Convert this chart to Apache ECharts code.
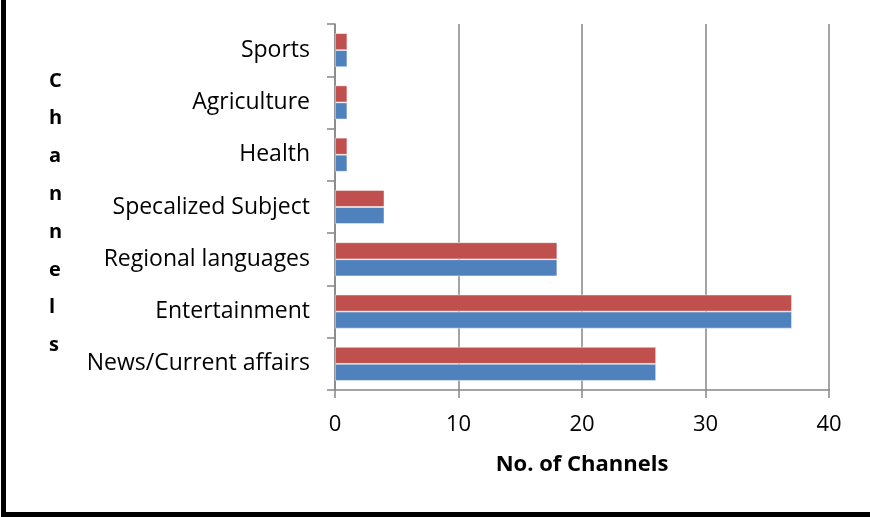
<!DOCTYPE html>
<html>
<head>
<meta charset="utf-8">
<script src="https://cdn.jsdelivr.net/npm/echarts@6/dist/echarts.min.js"></script>
<style>
html,body{margin:0;padding:0;background:#fff;}
#chart{width:870px;height:517px;}
</style>
</head>
<body>
<div id="chart"></div>
<script>
var categories = ['News/Current affairs', 'Entertainment', 'Regional languages', 'Specalized Subject', 'Health', 'Agriculture', 'Sports'];
var seriesBlue = [26, 37, 18, 4, 1, 1, 1];
var seriesRed = [26, 37, 18, 4, 1, 1, 1];
var xTicks = { min: 0, max: 40, interval: 10 };
var xTitle = 'No. of Channels';
var yTitle = 'Channels';

var FONT = 'Open Sans';
var chart = echarts.init(document.getElementById('chart'), null, { renderer: 'canvas' });
chart.setOption({
  animation: false,
  backgroundColor: '#ffffff',
  grid: { left: 335, right: 41, top: 24, bottom: 127, containLabel: false },
  xAxis: {
    type: 'value',
    min: xTicks.min, max: xTicks.max, interval: xTicks.interval,
    name: xTitle,
    nameLocation: 'middle',
    nameGap: 64,
    nameTextStyle: { fontFamily: FONT, fontSize: 22, fontWeight: 'bold', color: '#000' },
    axisLine: { show: true, lineStyle: { color: '#868686', width: 1.5 } },
    axisTick: { show: true, length: 8, lineStyle: { color: '#868686', width: 1.5 } },
    axisLabel: { fontFamily: FONT, fontSize: 22, color: '#000', margin: 24 },
    splitLine: { show: true, lineStyle: { color: '#868686', width: 1.5 } }
  },
  yAxis: {
    type: 'category',
    data: categories,
    axisLine: { show: true, lineStyle: { color: '#868686', width: 1.5 } },
    axisTick: { show: true, length: 8, alignWithLabel: false, lineStyle: { color: '#868686', width: 1.5 } },
    axisLabel: { fontFamily: FONT, fontSize: 23, color: '#000', margin: 25, padding: [4, 0, 0, 0] },
    splitLine: { show: false }
  },
  graphic: [
    { type: 'rect', shape: { x: 1, y: 0, width: 5, height: 517 }, style: { fill: '#000' } },
    { type: 'rect', shape: { x: 1, y: 512, width: 869, height: 5 }, style: { fill: '#000' } },
    {
      type: 'text', left: 49, top: 62,
      style: {
        text: yTitle.split('').join('\n'),
        fontFamily: FONT, fontSize: 20, fontWeight: 'bold', fill: '#000',
        lineHeight: 37.8, align: 'center'
      }
    }
  ],
  series: [
    {
      name: 'Series 2', type: 'bar', data: seriesRed,
      barGap: '0%', barCategoryGap: '35%',
      itemStyle: { color: '#C0504D', borderColor: 'rgba(255,255,255,0.6)', borderWidth: 0.8 }
    },
    {
      name: 'Series 1', type: 'bar', data: seriesBlue,
      barGap: '0%', barCategoryGap: '35%',
      itemStyle: { color: '#4F81BD', borderColor: 'rgba(255,255,255,0.6)', borderWidth: 0.8 }
    }
  ]
});
</script>
</body>
</html>
